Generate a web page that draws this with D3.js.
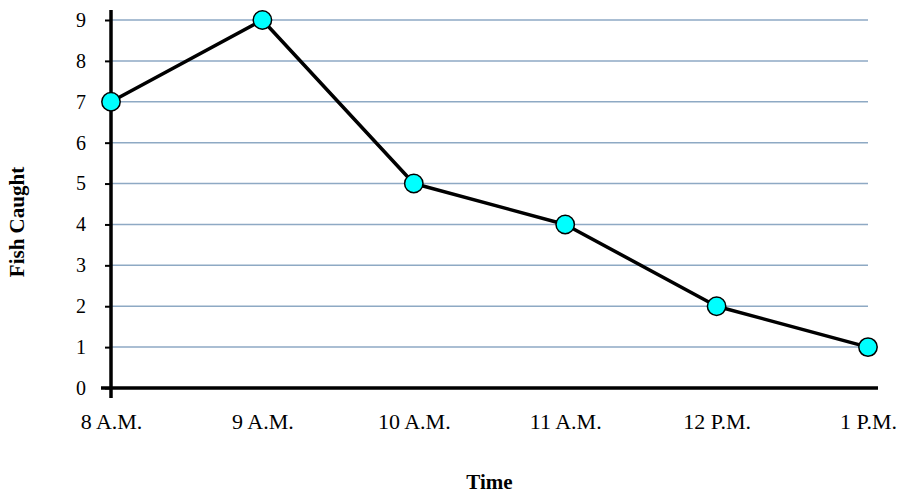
<!DOCTYPE html>
<html>
<head>
<meta charset="utf-8">
<script src="https://cdn.jsdelivr.net/npm/d3@7"></script>
<style>
  html, body { margin: 0; padding: 0; background: #fff; }
  svg { display: block; }
  text { font-family: "Liberation Serif", "Times New Roman", serif; fill: #000; }
</style>
</head>
<body>
<svg id="chart" width="902" height="495"></svg>
<script>
const categories = ["8 A.M.", "9 A.M.", "10 A.M.", "11 A.M.", "12 P.M.", "1 P.M."];
const fishCaught = [7, 9, 5, 4, 2, 1];
const yTicks = [0, 1, 2, 3, 4, 5, 6, 7, 8, 9];
const xTitle = "Time";
const yTitle = "Fish Caught";

const svg = d3.select("#chart");
const FONT = "'Liberation Serif', 'Times New Roman', serif";

const x = d3.scalePoint().domain(categories).range([111, 868]);
const y = d3.scaleLinear().domain([0, 9]).range([388, 20]);

// gridlines
svg.append("g")
  .selectAll("line")
  .data(yTicks.filter(d => d > 0))
  .join("line")
  .attr("x1", x.range()[0]).attr("x2", x.range()[1])
  .attr("y1", d => y(d)).attr("y2", d => y(d))
  .attr("stroke", "#8EA9C4").attr("stroke-width", 1.5);

// y axis
const yAxis = d3.axisLeft(y).tickValues(yTicks).tickSize(6).tickPadding(19).tickFormat(d3.format("d"));
const gy = svg.append("g").attr("transform", `translate(${x.range()[0]},0)`).call(yAxis)
  .attr("font-family", FONT);
gy.select(".domain").remove();
gy.selectAll(".tick line").attr("stroke", "#000").attr("stroke-width", 2);
gy.selectAll(".tick text").attr("font-size", 20);

// x axis
const xAxis = d3.axisBottom(x).tickSize(0);
const gx = svg.append("g").attr("transform", `translate(0,${y(0)})`).call(xAxis)
  .attr("font-family", FONT);
gx.select(".domain").remove();
gx.selectAll(".tick text").attr("font-size", 22).attr("y", 41).attr("dy", 0);

// axis lines (extend past the plot like the reference)
svg.append("line")
  .attr("x1", x.range()[0] - 10).attr("x2", x.range()[1] + 10)
  .attr("y1", y(0)).attr("y2", y(0))
  .attr("stroke", "#000").attr("stroke-width", 3.5);
svg.append("line")
  .attr("x1", x.range()[0]).attr("x2", x.range()[0])
  .attr("y1", y(9) - 10).attr("y2", y(0) + 10)
  .attr("stroke", "#000").attr("stroke-width", 3.5);

// line
const line = d3.line().x((d, i) => x(categories[i])).y(d => y(d));
svg.append("path")
  .datum(fishCaught)
  .attr("d", line)
  .attr("fill", "none")
  .attr("stroke", "#000")
  .attr("stroke-width", 3.5)
  .attr("stroke-linejoin", "round");

// markers
svg.append("g")
  .selectAll("circle")
  .data(fishCaught)
  .join("circle")
  .attr("cx", (d, i) => x(categories[i]))
  .attr("cy", d => y(d))
  .attr("r", 9.2)
  .attr("fill", "#00FFFF")
  .attr("stroke", "#000")
  .attr("stroke-width", 1.5);

// titles
svg.append("text")
  .attr("x", (x.range()[0] + x.range()[1]) / 2).attr("y", 489)
  .attr("text-anchor", "middle")
  .attr("font-size", 21).attr("font-weight", "bold")
  .text(xTitle);
svg.append("text")
  .attr("transform", "translate(24,222) rotate(-90)")
  .attr("text-anchor", "middle")
  .attr("font-size", 21).attr("font-weight", "bold")
  .text(yTitle);
</script>
</body>
</html>
